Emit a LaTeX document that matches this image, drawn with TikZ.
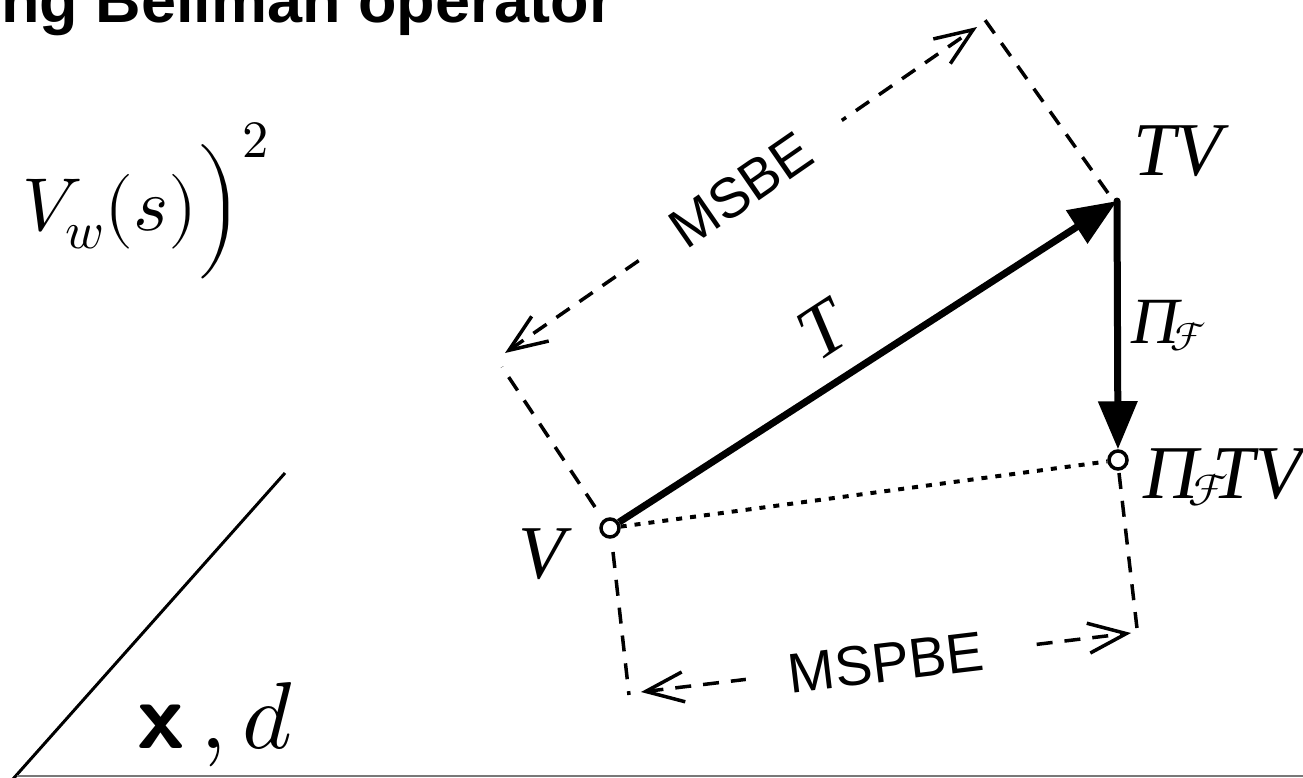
\documentclass[tikz,border=0pt]{standalone}
\usepackage{fontspec}
\usepackage{unicode-math}
\setmathfont{Latin Modern Math}
\newfontfamily\tms{Liberation Serif}
\newfontfamily\hv{Liberation Sans}
\usetikzlibrary{arrows.meta}
\definecolor{rulegray}{RGB}{120,120,120}
\begin{document}
\begin{tikzpicture}[x=1pt,y=-1pt,
  vtx/.style={circle,draw,fill=white,line width=3.5pt,minimum size=18pt,inner sep=0pt},
  bigarrow/.style={line width=7pt,-{Triangle[length=48pt,width=38pt]}},
  dsh/.style={line width=3.5pt,dash pattern=on 16pt off 12pt},
  dotln/.style={line width=4pt,dash pattern=on 6pt off 8pt},
  dimarrow/.style={dsh,{Straight Barb[length=38pt,width=30pt]}-{Straight Barb[length=38pt,width=30pt]}},
  lab/.style={inner sep=0pt,font=\fontsize{76}{80}\selectfont\tms\itshape},
  errlab/.style={sloped,fill=white,inner xsep=43pt,inner ysep=2pt,font=\hv\fontsize{56}{60}\selectfont},
  ]
\useasboundingbox (0,0) rectangle (1303,777);

% title and left formula
\node[anchor=base east,inner sep=0pt,font=\hv\bfseries\fontsize{63}{70}\selectfont] (title) at (614,22) {ng Bellman operator};
\node[anchor=base west,inner sep=0pt,font=\fontsize{75}{80}\selectfont] (formula) at (22,230) {$V_w(s)\Bigr)^2$};
\coordinate (d1) at (285,473);
\coordinate (d2) at (13,779);
\draw[line width=3pt] (d1) -- (d2);
\node[anchor=base west,inner sep=0pt,font=\fontsize{95}{100}\selectfont] (xd) at (137,748) {\textsf{\bfseries x}\,$,d$};
\coordinate (r1) at (17,776);
\coordinate (r2) at (1303,776);
\draw[rulegray,line width=2pt] (r1) -- (r2);

% points
\node[vtx] (V) at (610,528) {};
\node[vtx] (P) at (1118,460) {};
\coordinate (TV) at (1117,201);

% dotted V -> Pi T V
\draw[dotln] (V) -- (P);

% MSBE construction
\coordinate (a0) at (595,507);
\coordinate (a1) at (502,367);
\coordinate (b0) at (1108,193);
\coordinate (b1) at (980,13);
\draw[dsh] (a0) -- (a1);
\draw[dsh] (b0) -- (b1);
\coordinate (m1) at (505,353);
\coordinate (m2) at (977,27);
\draw[dimarrow] (m1) -- node[errlab] (msbe) {MSBE} (m2);

% MSPBE construction
\coordinate (c0) at (613,552);
\coordinate (c1) at (629,695);
\coordinate (e0) at (1119,473);
\coordinate (e1) at (1138,637);
\draw[dsh] (c0) -- (c1);
\draw[dsh] (e0) -- (e1);
\coordinate (n1) at (641,692);
\coordinate (n2) at (1131,633);
\draw[dimarrow] (n1) -- node[errlab] (mspbe) {MSPBE} (n2);

% thick arrows
\draw[bigarrow] (V) -- (TV);
\draw[bigarrow,line cap=round] (TV) -- (P);

% labels
\node[lab,anchor=base west] (Vl) at (518,578) {V};
\node[lab,anchor=base west] (TVl) at (1133,175) {TV};
\node[lab,rotate=33] (Tl) at (823,330) {T};
\node[lab,anchor=base west,font=\fontsize{66}{70}\selectfont\tms\itshape] (Pil) at (1131,343) {Π\kern-8pt\raisebox{-7pt}{\fontsize{40}{40}\selectfont$\mathcal{F}$}};
\node[lab,anchor=base west] (PTVl) at (1143,498) {Π\kern-10pt\raisebox{-7pt}{\fontsize{45}{45}\selectfont$\mathcal{F}$}\kern-16pt TV};
\end{tikzpicture}
\end{document}
